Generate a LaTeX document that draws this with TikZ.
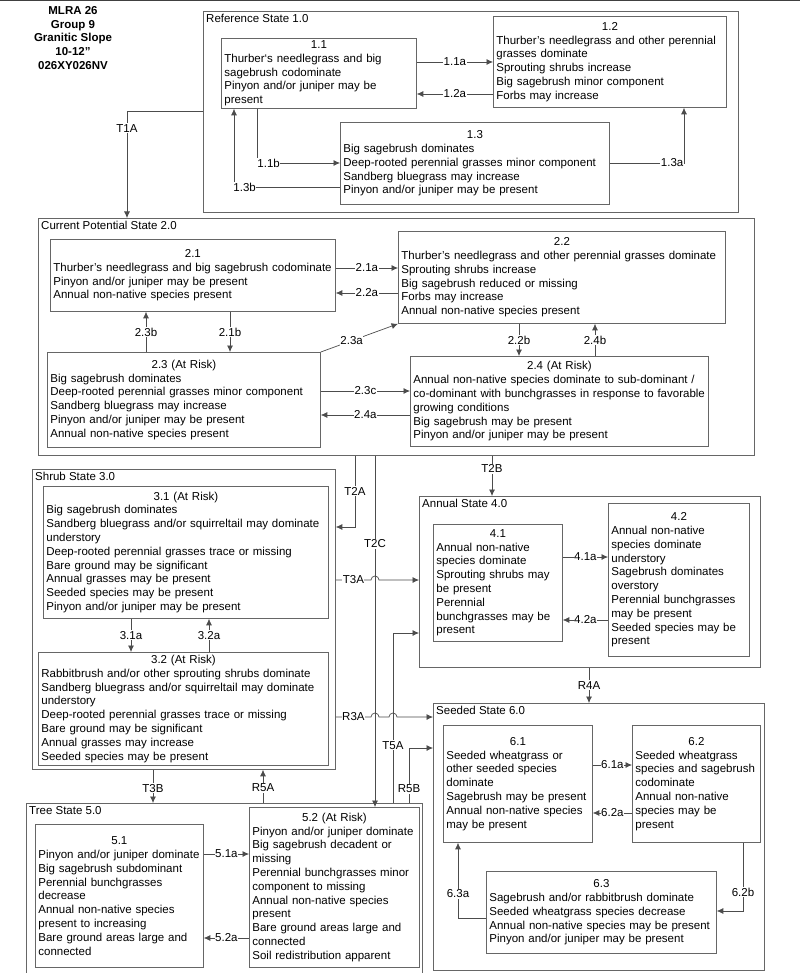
\documentclass[tikz,border=0pt]{standalone}
\usepackage{fontspec}
\setmainfont{Liberation Sans}
\usetikzlibrary{arrows.meta}
\newcommand{\hd}[1]{\hfill#1\hfill\null\\}
\begin{document}
\begin{tikzpicture}[x=1pt,y=-1pt,
  txt/.style={font=\fontsize{11.5}{13.8}\selectfont},
  state/.style={draw=black!60, line width=0.8pt, anchor=north west, inner sep=0pt},
  box/.style={txt, draw=black!60, line width=0.8pt, anchor=north west, align=left, inner xsep=3pt, inner ysep=2pt},
  ttl/.style={txt, anchor=north west, inner xsep=3pt, inner ysep=3pt},
  arr/.style={draw=black!70, line width=0.7pt, -{Latex[length=6.5pt,width=6pt]}},
  lbl/.style={txt, fill=white, inner xsep=0.5pt, inner ysep=1pt}]
\useasboundingbox (0,0) rectangle (800,973);
\fill[white] (0,0) rectangle (800,973);
\draw[line width=1.5pt, black!75] (0,0.75) -- (800,0.75);
\node[txt, font=\fontsize{11.5}{13.8}\selectfont\bfseries, align=center] (mlra) at (73,38) {MLRA 26\\Group 9\\Granitic Slope\\10-12"\\026XY026NV};
% states
\node[state, minimum width=535, minimum height=201] (s1) at (203,11) {};
\node[ttl] (s1t) at (s1.north west) {Reference State 1.0};
\node[state, minimum width=716, minimum height=237] (s2) at (38,218) {};
\node[ttl] (s2t) at (s2.north west) {Current Potential State 2.0};
\node[state, minimum width=303, minimum height=300] (s3) at (32,469) {};
\node[ttl] (s3t) at (s3.north west) {Shrub State 3.0};
\node[state, minimum width=341, minimum height=171] (s4) at (419,496) {};
\node[ttl] (s4t) at (s4.north west) {Annual State 4.0};
\node[state, draw=none, minimum width=396, minimum height=170] (s5) at (26,803) {};
\draw[black!60, line width=0.8pt] (s5.south west) |- (s5.north east) -- (s5.south east);
\node[ttl] (s5t) at (s5.north west) {Tree State 5.0};
\node[state, minimum width=331, minimum height=267] (s6) at (433,703) {};
\node[ttl] (s6t) at (s6.north west) {Seeded State 6.0};
% community phases
\node[box, text width=189, minimum height=70] (b11) at (221,38) {\hd{1.1}Thurber`s needlegrass and big\\sagebrush codominate\\Pinyon and/or juniper may be\\present};
\node[box, text width=227, minimum height=91] (b12) at (493,16) {\hd{1.2}Thurber's needlegrass and other perennial\\grasses dominate\\Sprouting shrubs increase\\Big sagebrush minor component\\Forbs may increase};
\node[box, text width=263, minimum height=82] (b13) at (340,122) {\hd{1.3}Big sagebrush dominates\\Deep-rooted perennial grasses minor component\\Sandberg bluegrass may increase\\Pinyon and/or juniper may be present};
\node[box, text width=279, minimum height=72] (b21) at (50,239) {\hd{2.1}Thurber’s needlegrass and big sagebrush codominate\\Pinyon and/or juniper may be present\\Annual non-native species present};
\node[box, text width=321, minimum height=92] (b22) at (398,231) {\hd{2.2}Thurber's needlegrass and other perennial grasses dominate\\Sprouting shrubs increase\\Big sagebrush reduced or missing\\Forbs may increase\\Annual non-native species present};
\node[box, text width=267, minimum height=95] (b23) at (47,352) {\hd{2.3 (At Risk)}Big sagebrush dominates\\Deep-rooted perennial grasses minor component\\Sandberg bluegrass may increase\\Pinyon and/or juniper may be present\\Annual non-native species present};
\node[box, text width=292, minimum height=90] (b24) at (410,356) {\hd{2.4 (At Risk)}Annual non-native species dominate to sub-dominant /\\co-dominant with bunchgrasses in response to favorable\\growing conditions\\Big sagebrush may be present\\Pinyon and/or juniper may be present};
\node[box, text width=279, minimum height=132] (b31) at (43,486) {\hd{3.1 (At Risk)}Big sagebrush dominates\\Sandberg bluegrass and/or squirreltail may dominate\\understory\\Deep-rooted perennial grasses trace or missing\\Bare ground may be significant\\Annual grasses may be present\\Seeded species may be present\\Pinyon and/or juniper may be present};
\node[box, text width=284, minimum height=113] (b32) at (38,652) {\hd{3.2 (At Risk)}Rabbitbrush and/or other sprouting shrubs dominate\\Sandberg bluegrass and/or squirreltail may dominate\\understory\\Deep-rooted perennial grasses trace or missing\\Bare ground may be significant\\Annual grasses may increase\\Seeded species may be present};
\node[box, text width=123, minimum height=117] (b41) at (433,524) {\hd{4.1}Annual non-native\\species dominate\\Sprouting shrubs may\\be present\\Perennial\\bunchgrasses may be\\present};
\node[box, text width=135, minimum height=153] (b42) at (608,503) {\hd{4.2}Annual non-native\\species dominate\\understory\\Sagebrush dominates\\overstory\\Perennial bunchgrasses\\may be present\\Seeded species may be\\present};
\node[box, text width=162, minimum height=143] (b51) at (35,824) {\hd{5.1}Pinyon and/or juniper dominate\\Big sagebrush subdominant\\Perennial bunchgrasses\\decrease\\Annual non-native species\\present to increasing\\Bare ground areas large and\\connected};
\node[box, text width=164, minimum height=160] (b52) at (249,807) {\hd{5.2 (At Risk)}Pinyon and/or juniper dominate\\Big sagebrush decadent or\\missing\\Perennial bunchgrasses minor\\component to missing\\Annual non-native species\\present\\Bare ground areas large and\\connected\\Soil redistribution apparent};
\node[box, text width=143, minimum height=117] (b61) at (443,725) {\hd{6.1}Seeded wheatgrass or\\other seeded species\\dominate\\Sagebrush may be present\\Annual non-native species\\may be present};
\node[box, text width=122, minimum height=117] (b62) at (632,725) {\hd{6.2}Seeded wheatgrass\\species and sagebrush\\codominate\\Annual non-native\\species may be\\present};
\node[box, text width=224, minimum height=82] (b63) at (486,871) {\hd{6.3}Sagebrush and/or rabbitbrush dominate\\Seeded wheatgrass species decrease\\Annual non-native species may be present\\Pinyon and/or juniper may be present};
% pathways within states
\draw[arr] (b11.east |- 0,62) -- node[lbl]{1.1a} (b12.west |- 0,62);
\draw[arr] (b12.west |- 0,94) -- node[lbl]{1.2a} (b11.east |- 0,94);
\draw[arr] (b11.south -| 257,0) |- node[lbl,pos=0.57]{1.1b} (b13.west |- 0,163);
\draw[arr] (b13.west |- 0,187) -| node[lbl,pos=0.45]{1.3b} (b11.south -| 234,0);
\draw[arr] (b13.east |- 0,163) -| node[lbl,pos=0.42]{1.3a} (b12.south -| 684,0);
\draw[arr] (b21.east |- 0,268) -- node[lbl]{2.1a} (b22.west |- 0,268);
\draw[arr] (b22.west |- 0,293) -- node[lbl]{2.2a} (b21.east |- 0,293);
\draw[arr] (b21.south -| 230,0) -- node[lbl]{2.1b} (b23.north -| 230,0);
\draw[arr] (b23.north -| 146,0) -- node[lbl]{2.3b} (b21.south -| 146,0);
\draw[arr] (b23.north east) -- node[lbl,pos=0.4]{2.3a} (b22.south west);
\draw[arr] (b23.east |- 0,391) -- node[lbl]{2.3c} (b24.west |- 0,391);
\draw[arr] (b24.west |- 0,415) -- node[lbl]{2.4a} (b23.east |- 0,415);
\draw[arr] (b22.south -| 519,0) -- node[lbl]{2.2b} (b24.north -| 519,0);
\draw[arr] (b24.north -| 595,0) -- node[lbl]{2.4b} (b22.south -| 595,0);
\draw[arr] (b31.south -| 131,0) -- node[lbl]{3.1a} (b32.north -| 131,0);
\draw[arr] (b32.north -| 209,0) -- node[lbl]{3.2a} (b31.south -| 209,0);
\draw[arr] (b41.east |- 0,557) -- node[lbl]{4.1a} (b42.west |- 0,557);
\draw[arr] (b42.west |- 0,620) -- node[lbl]{4.2a} (b41.east |- 0,620);
\draw[arr] (b51.east |- 0,854) -- node[lbl]{5.1a} (b52.west |- 0,854);
\draw[arr] (b52.west |- 0,938) -- node[lbl]{5.2a} (b51.east |- 0,938);
\draw[arr] (b61.east |- 0,765) -- node[lbl]{6.1a} (b62.west |- 0,765);
\draw[arr] (b62.west |- 0,813) -- node[lbl]{6.2a} (b61.east |- 0,813);
\draw[arr] (b62.south -| 743,0) |- node[lbl,pos=0.36]{6.2b} (b63.east |- 0,911);
\draw[arr] (b63.west |- 0,918) -| node[lbl,pos=0.66]{6.3a} (b61.south -| 458,0);
% transitions between states
\draw[arr] (s1.west |- 0,111) -| node[lbl,pos=0.58]{T1A} (s2.north -| 127,0);
\draw[arr] (s2.south -| 355,0) |- node[lbl,pos=0.25]{T2A} (s3.east |- 0,527);
\draw[arr] (s2.south -| 375,0) -- node[lbl,pos=0.25]{T2C} (b52.north -| 375,0);
\draw[arr] (s2.south -| 492,0) -- node[lbl,pos=0.32]{T2B} (s4.north -| 492,0);
\draw[arr] (s3.east |- 0,580) -- node[lbl]{T3A} (371,580) arc[start angle=180,end angle=360,radius=4] -- (s4.west |- 0,580);
\draw[arr] (s5.north -| 393,0) |- node[lbl,pos=0.17]{T5A} (s4.west |- 0,633);
\draw[arr] (s3.east |- 0,717) -- node[lbl]{R3A} (371,717) arc[start angle=180,end angle=360,radius=4] -- (389,717) arc[start angle=180,end angle=360,radius=4] -- (s6.west |- 0,717);
\draw[arr] (s5.north -| 409,0) |- node[lbl,pos=0.13]{R5B} (s6.west |- 0,748);
\draw[arr] (s4.south -| 589,0) -- node[lbl]{R4A} (s6.north -| 589,0);
\draw[arr] (s3.south -| 153,0) -- node[lbl,pos=0.55]{T3B} (s5.north -| 153,0);
\draw[arr] (s5.north -| 263,0) -- node[lbl,pos=0.45]{R5A} (s3.south -| 263,0);
\end{tikzpicture}
\end{document}
